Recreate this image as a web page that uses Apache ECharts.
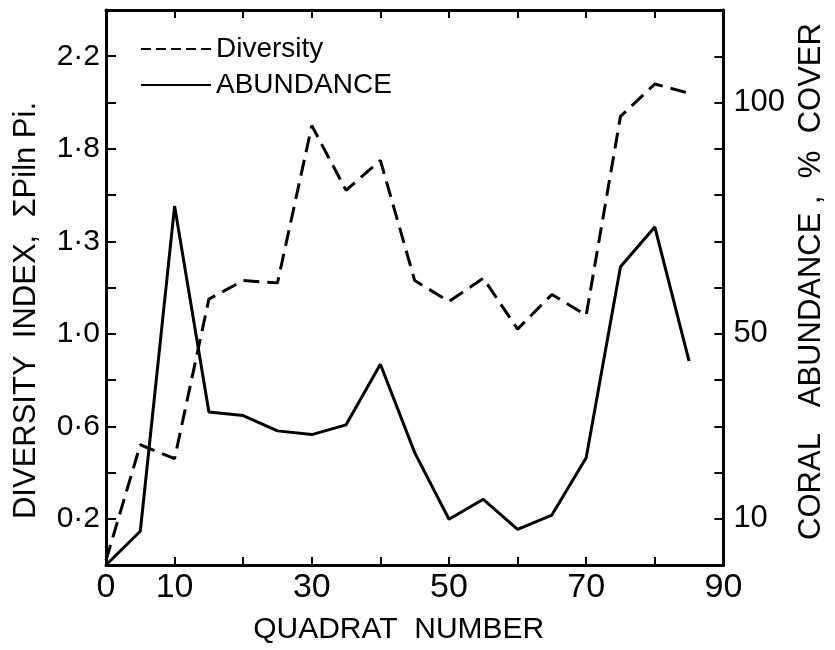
<!DOCTYPE html>
<html>
<head>
<meta charset="utf-8">
<script src="https://cdn.jsdelivr.net/npm/echarts@6/dist/echarts.min.js"></script>
<style>
  html, body { margin: 0; padding: 0; background: #fff; }
  #chart { width: 835px; height: 650px; }
</style>
</head>
<body>
<div id="chart"></div>
<script>
// quadrat numbers along the transect
const quadrat = [0, 5, 10, 15, 20, 25, 30, 35, 40, 45, 50, 55, 60, 65, 70, 75, 80, 85];
// diversity index (left axis)
const diversity = [0.02, 0.52, 0.46, 1.15, 1.23, 1.22, 1.9, 1.62, 1.75, 1.23, 1.14, 1.24, 1.02, 1.17, 1.08, 1.94, 2.08, 2.04];
// coral abundance, % cover (right axis)
const abundance = [0, 7.3, 77.6, 33.1, 32.3, 29.0, 28.2, 30.3, 43.4, 24.3, 9.9, 14.2, 7.7, 10.8, 23.2, 64.5, 73.1, 44.1];

// tick labels as printed (the 1.4 position carries "1·3" on the original)
const xTickLabels = [0, 10, 30, 50, 70, 90];
const leftTickValues = [0.2, 0.6, 1.0, 1.4, 1.8, 2.2];
const leftTickLabels = ['0·2', '0·6', '1·0', '1·3', '1·8', '2·2'];
const rightTickLabels = [10, 50, 100];

const FONT = 'Liberation Sans';
const INK = '#000';

const chart = echarts.init(document.getElementById('chart'));

// onZero off, otherwise the top/right axes collapse onto the zero lines
const axisLine = { show: true, onZero: false, lineStyle: { color: INK, width: 3 } };
const tick = (len) => ({ show: true, inside: true, length: len, lineStyle: { color: INK, width: 2 } });

chart.setOption({
  backgroundColor: '#fff',
  animation: false,
  textStyle: { fontFamily: FONT, color: INK },
  grid: { left: 106, right: 110, top: 10, bottom: 82, containLabel: false },
  legend: {
    orient: 'vertical',
    left: 140,
    top: 35,
    padding: 0,
    itemWidth: 70,
    itemHeight: 14,
    itemGap: 8,
    itemStyle: { opacity: 0 },
    textStyle: { fontFamily: FONT, fontSize: 28, color: INK },
    data: [
      { name: 'Diversity', lineStyle: { type: [10, 5] } },
      { name: 'ABUNDANCE' },
    ],
  },
  xAxis: [
    {
      type: 'value',
      min: 0,
      max: 90,
      interval: 10,
      position: 'bottom',
      name: 'QUADRAT  NUMBER',
      nameLocation: 'middle',
      nameGap: 50,
      nameTextStyle: { fontFamily: FONT, fontSize: 30, color: INK, padding: [0, 32, 0, 0] },
      axisLine,
      axisTick: tick(8),
      axisLabel: {
        fontFamily: FONT, fontSize: 34, color: INK, margin: 6,
        formatter: (v) => (xTickLabels.includes(v) ? String(v) : ''),
      },
      splitLine: { show: false },
    },
    {
      type: 'value',
      min: 0,
      max: 90,
      interval: 10,
      position: 'top',
      axisLine,
      axisTick: tick(8),
      axisLabel: { show: false },
      splitLine: { show: false },
    },
  ],
  yAxis: [
    {
      type: 'value',
      min: 0,
      max: 2.4,
      interval: 0.2,
      position: 'left',
      name: 'DIVERSITY  INDEX,  ΣPiln Pi.',
      nameLocation: 'middle',
      nameRotate: 90,
      nameGap: 64,
      nameTextStyle: { fontFamily: FONT, fontSize: 31, color: INK, padding: [0, 46, 0, 0] },
      axisLine,
      axisTick: tick(10),
      axisLabel: {
        fontFamily: FONT, fontSize: 30, color: INK, margin: 6,
        formatter: (v) => {
          const i = leftTickValues.findIndex((t) => Math.abs(t - v) < 1e-6);
          return i >= 0 ? leftTickLabels[i] : '';
        },
      },
      splitLine: { show: false },
    },
    {
      type: 'value',
      min: 0,
      max: 120,
      interval: 10,
      position: 'right',
      name: 'CORAL   ABUNDANCE ,  %  COVER',
      nameLocation: 'middle',
      nameRotate: 90,
      nameGap: 72,
      nameTextStyle: { fontFamily: FONT, fontSize: 31, color: INK, padding: [0, 0, 0, 12] },
      axisLine,
      axisTick: tick(9),
      axisLabel: {
        fontFamily: FONT, fontSize: 31, color: INK, margin: 10,
        formatter: (v) => (rightTickLabels.includes(v) ? String(v) : ''),
      },
      splitLine: { show: false },
    },
  ],
  series: [
    {
      name: 'Diversity',
      type: 'line',
      xAxisIndex: 0,
      yAxisIndex: 0,
      data: quadrat.map((q, i) => [q, diversity[i]]),
      symbol: 'none',
      lineStyle: { color: INK, width: 3, type: [16, 8] },
      itemStyle: { color: INK },
      z: 3,
    },
    {
      name: 'ABUNDANCE',
      type: 'line',
      xAxisIndex: 0,
      yAxisIndex: 1,
      data: quadrat.map((q, i) => [q, abundance[i]]),
      symbol: 'none',
      lineStyle: { color: INK, width: 3 },
      itemStyle: { color: INK },
      z: 3,
    },
  ],
});
</script>
</body>
</html>
